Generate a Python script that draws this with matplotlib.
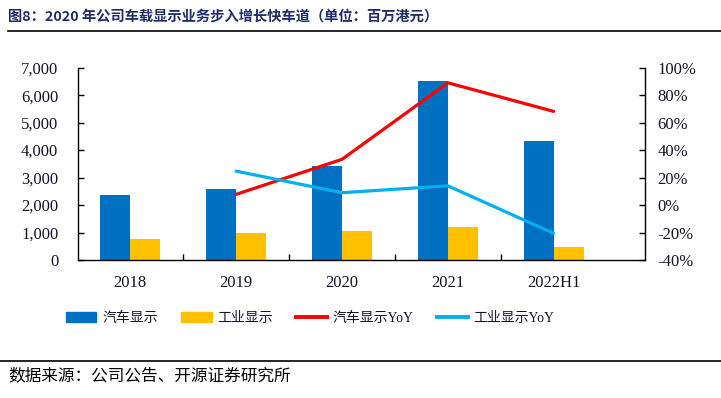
import matplotlib
matplotlib.use("Agg")
import matplotlib.pyplot as plt
import numpy as np
from matplotlib.lines import Line2D
from matplotlib.patches import Patch

categories = ["2018", "2019", "2020", "2021", "2022H1"]
auto_display = [2380, 2570, 3430, 6520, 4340]
industrial_display = [770, 970, 1055, 1210, 475]
auto_yoy = [None, 7.8, 33.3, 89.0, 68.2]
industrial_yoy = [None, 24.7, 9.0, 14.0, -20.6]
left_ticks = [0, 1000, 2000, 3000, 4000, 5000, 6000, 7000]
right_ticks = [-40, -20, 0, 20, 40, 60, 80, 100]

c_blue = "#0070C0"
c_yellow = "#FFC000"
c_red = "#FF0000"
c_cyan = "#00B0F0"

cjk = ["Noto Sans CJK SC", "DejaVu Sans"]
serif = ["Liberation Serif", "Noto Sans CJK SC"]
tick_color = "#141428"

fig = plt.figure(figsize=(7.21, 3.98), dpi=100)
W, H = 721, 398
ax = fig.add_axes([77.7 / W, 1 - 260 / H, (644.7 - 77.7) / W, (260 - 67.7) / H])
ax2 = ax.twinx()

x = np.arange(len(categories))
bw = 0.285
ax.bar(x - bw / 2, auto_display, bw, color=c_blue, zorder=2)
ax.bar(x + bw / 2, industrial_display, bw, color=c_yellow, zorder=2)

xi = [i for i, v in enumerate(auto_yoy) if v is not None]
ax2.plot(xi, [auto_yoy[i] for i in xi], color=c_red, lw=2.3, solid_capstyle="round")
ax2.plot(xi, [industrial_yoy[i] for i in xi], color=c_cyan, lw=2.3, solid_capstyle="round")

ax.set_xlim(-0.497, 4.86)
ax.set_ylim(0, 7000)
ax2.set_ylim(-40, 100)
ax.set_yticks(left_ticks)
ax.set_yticklabels([f"{v:,}" for v in left_ticks], fontfamily=serif, fontsize=12, color=tick_color)
ax2.set_yticks(right_ticks)
ax2.set_yticklabels([f"{v}%" for v in right_ticks], fontfamily=serif, fontsize=12, color=tick_color)
ax.set_xticks(x)
ax.set_xticklabels(categories, fontfamily=serif, fontsize=12, color=tick_color)
ax.set_xticks(x[:-1] + 0.5, minor=True)
ax.tick_params(axis="x", which="major", length=0, pad=11)
ax.tick_params(axis="x", which="minor", direction="in", length=4, width=1)
ax.tick_params(axis="y", direction="in", length=4, width=1, pad=14)
ax2.tick_params(axis="y", direction="in", length=4, width=1, pad=9)

for a in (ax, ax2):
    a.spines["top"].set_visible(False)
    for s in ("left", "right", "bottom"):
        a.spines[s].set_linewidth(1.0)
        a.spines[s].set_color("black")
ax.spines["right"].set_visible(False)
ax2.spines["left"].set_visible(False)
ax2.spines["bottom"].set_visible(False)

handles = [
    Patch(color=c_blue, label="汽车显示"),
    Patch(color=c_yellow, label="工业显示"),
    Line2D([], [], color=c_red, lw=2.8, label="汽车显示YoY"),
    Line2D([], [], color=c_cyan, lw=2.8, label="工业显示YoY"),
]
leg = fig.legend(handles=handles, loc="center", bbox_to_anchor=(310 / W, 1 - 318 / H),
                 ncol=4, frameon=False, prop={"family": serif, "size": 10},
                 handlelength=2.2, handleheight=0.75, columnspacing=1.7, handletextpad=0.4)
for t in leg.get_texts():
    t.set_color(tick_color)

fig.text(8 / W, 1 - 17 / H, "图8：2020 年公司车载显示业务步入增长快车道（单位：百万港元）",
         fontfamily=cjk, fontsize=10.3, fontweight="bold", color="#1F2D6B", va="center", ha="left")
fig.add_artist(Line2D([8 / W, 1.0], [1 - 31 / H, 1 - 31 / H], color="black", lw=1.2))
fig.add_artist(Line2D([0.0, 1.0], [1 - 360.5 / H, 1 - 360.5 / H], color="black", lw=1.2))
fig.text(8 / W, 1 - 376 / H, "数据来源：公司公告、开源证券研究所",
         fontfamily=cjk, fontsize=12, color="black", va="center", ha="left")

fig.savefig("out.png", dpi=100)
